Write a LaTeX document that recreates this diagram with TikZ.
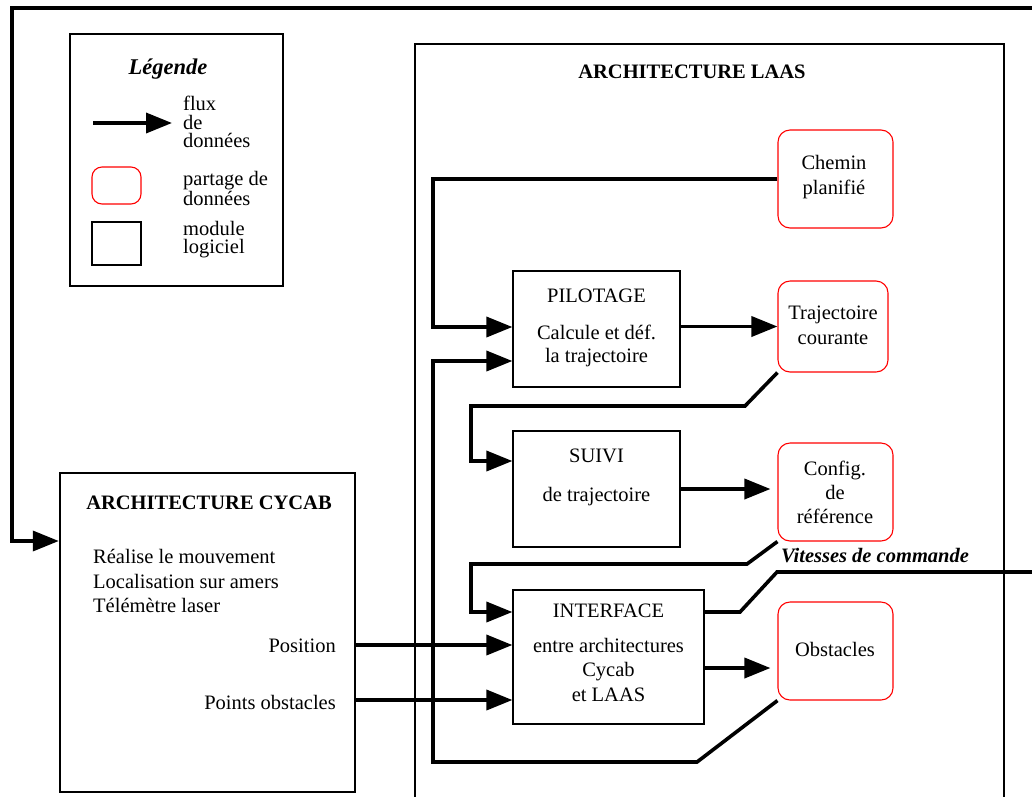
\documentclass[tikz,border=0pt]{standalone}
\usepackage{fontspec}
\setmainfont{Liberation Serif}
\usetikzlibrary{positioning,arrows.meta}

\newcommand\taille{\fontsize{20.5}{24}\selectfont}
\newcommand\serre{\fontsize{20.5}{18.5}\selectfont}

\tikzset{
  module/.style={draw, line width=1.2pt, inner sep=0pt},
  partage/.style={draw=red, rounded corners=12pt, line width=1.1pt, inner sep=0pt},
  cadre/.style={draw, line width=2.4pt, inner sep=0pt},
  flux/.style={line width=3.6pt, -{Triangle[length=26pt,width=20pt]}},
  lien/.style={line width=3.6pt},
  txt/.style={anchor=base, inner sep=0pt, font=\taille},
  gtxt/.style={anchor=base west, inner sep=0pt, font=\taille},
  dtxt/.style={anchor=base east, inner sep=0pt, font=\taille},
  legtxt/.style={anchor=north west, inner sep=0pt, align=left, font=\serre},
}

\begin{document}
\begin{tikzpicture}[x=1pt,y=-1pt]
\useasboundingbox (0,0) rectangle (1032,796);

% legende
\node[cadre, minimum width=213pt, minimum height=252pt] (legende) at (176.5,160) {};
\node[txt, font=\fontsize{22.5}{26}\selectfont\bfseries\itshape] (legtitre) at (168,74) {Légende};
\draw[flux] (93,123) -- (172,123);
\node[legtxt] (legflux) at (183,96) {flux\\de\\données};
\node[partage, rounded corners=10pt, minimum width=49pt, minimum height=37pt] (legpartage) at (116.5,185.5) {};
\node[legtxt] (legpart) at (183,171) {partage de\\données};
\node[module, minimum width=49pt, minimum height=43pt] (legmodule) at (116.5,243.5) {};
\node[legtxt] (legmod) at (183,221) {module\\logiciel};

% architecture LAAS
\draw[cadre] (415,800) -- (415,44) -- (1004,44) -- (1004,800);
\node[txt, font=\taille\bfseries] (titrelaas) at (692,78) {ARCHITECTURE LAAS};

\node[module, minimum width=167pt, minimum height=116pt] (pilotage) at (596.5,329) {};
\node[txt] (pil1) at (596.5,302) {PILOTAGE};
\node[txt] (pil2) at (596.5,339) {Calcule et déf.};
\node[txt] (pil3) at (596.5,362) {la trajectoire};

\node[module, minimum width=167pt, minimum height=116pt] (suivi) at (596.5,489) {};
\node[txt] (sui1) at (596.5,462) {SUIVI};
\node[txt] (sui2) at (596.5,501) {de trajectoire};

\node[module, minimum width=191pt, minimum height=134pt] (interface) at (608.5,657) {};
\node[txt] (int1) at (608.5,617) {INTERFACE};
\node[txt] (int2) at (608.5,652) {entre architectures};
\node[txt] (int3) at (608.5,676) {Cycab};
\node[txt] (int4) at (608.5,701) {et LAAS};

\node[partage, minimum width=115pt, minimum height=98pt] (chemin) at (835.5,179) {};
\node[txt] (che1) at (834,169) {Chemin};
\node[txt] (che2) at (834,194) {planifié};

\node[partage, minimum width=110pt, minimum height=91pt] (traj) at (833,326.5) {};
\node[txt] (tra1) at (833,319) {Trajectoire};
\node[txt] (tra2) at (833,344) {courante};

\node[partage, minimum width=115pt, minimum height=98pt] (config) at (835.5,492) {};
\node[txt] (con1) at (835,475) {Config.};
\node[txt] (con2) at (835,499) {de};
\node[txt] (con3) at (835,523) {référence};

\node[partage, minimum width=115pt, minimum height=98pt] (obstacles) at (835.5,651) {};
\node[txt] (obs1) at (835,656) {Obstacles};

% architecture CYCAB
\node[cadre, minimum width=295pt, minimum height=319pt] (cycab) at (207.5,632.5) {};
\node[txt, font=\taille\bfseries] (titrecycab) at (209,509) {ARCHITECTURE CYCAB};
\node[gtxt] (cyc1) at (93,563) {Réalise le mouvement};
\node[gtxt] (cyc2) at (93,588) {Localisation sur amers};
\node[gtxt] (cyc3) at (93,612) {Télémètre laser};
\node[dtxt] (position) at (336,652) {Position};
\node[dtxt] (pointsobs) at (336,709) {Points obstacles};

% flux
\coordinate (sortie) at (1034,572);
\coordinate (retour) at (1034,8);
\draw[flux] (chemin.west) -| (433,327) -- ([yshift=2pt]pilotage.west);
\draw[flux] (pilotage.east |- traj.west) -- (traj.west);
\draw[flux] (traj.south west) -- (745,406) -| (471,461) -- ([yshift=28pt]suivi.west);
\draw[flux, shorten >=7pt] (suivi.east) -- (suivi.east -| config.west);
\draw[flux] (config.south west) -- (747,564) -| (471,612) -- ([yshift=45pt]interface.west);
\draw[lien] ([yshift=45pt]interface.east) -- (740,612) -- (777,572) -- (sortie);
\node[txt, font=\taille\bfseries\itshape] (vitesses) at (875,562) {Vitesses de commande};
\path ([yshift=-11pt]interface.east) coordinate (versobs);
\draw[flux, shorten >=7pt] (versobs) -- (versobs -| obstacles.west);
\draw[flux] (obstacles.south west) -- (697,762) -| (433,361) -- ([yshift=-32pt]pilotage.west);
\draw[flux] (cycab.east |- 0,645) -- (interface.west |- 0,645);
\draw[flux] (cycab.east |- 0,700) -- (interface.west |- 0,700);
\draw[flux] (retour) -| (12,541) -- (cycab.west |- 0,541);
\end{tikzpicture}
\end{document}
